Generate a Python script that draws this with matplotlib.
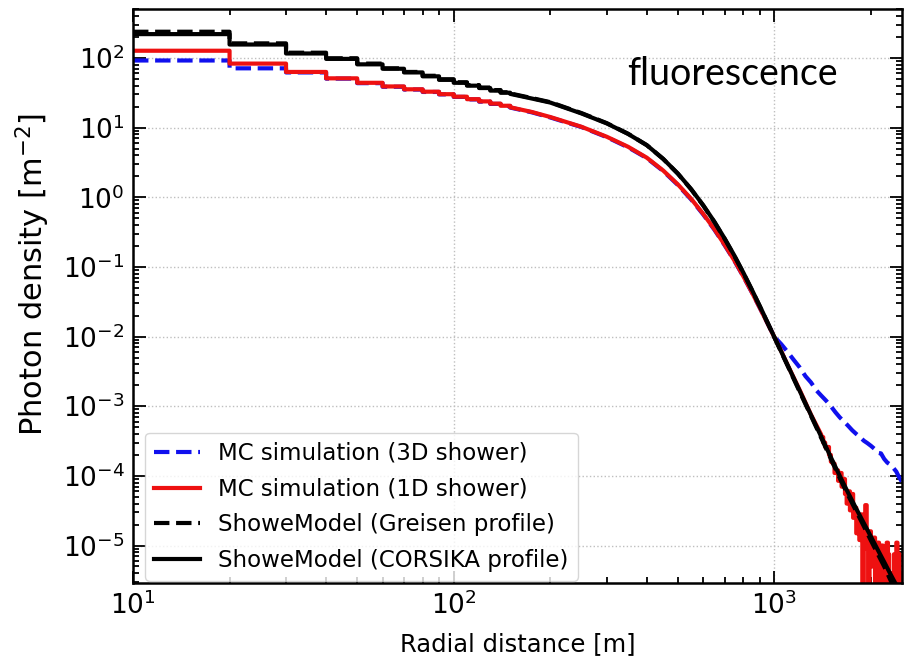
import numpy as np
import matplotlib
matplotlib.use("Agg")
import matplotlib.pyplot as plt
from matplotlib.ticker import LogLocator, NullFormatter

# 10 m bins close to the core, where the histogram steps are visible
low_edges = [10, 20, 30, 40, 50, 60, 70, 80, 90, 100, 110, 120, 130, 140, 150]
mc3d_low = [92, 71, 62, 50.5, 43.5, 38.6, 35.2, 32.5, 30.0, 27.6, 25.4, 23.6, 21.9, 20.4]
mc1d_low = [127, 83, 63, 51, 44, 39, 35.5, 32.8, 30.2, 27.8, 25.6, 23.8, 22.1, 20.6]
greisen_low = [238, 162, 119, 99, 83, 71, 63, 55.5, 49.5, 44.8, 40.8, 37.6, 34.6, 32.2]
corsika_low = [220, 156, 116, 97, 81, 70, 62, 54.5, 48.5, 44.0, 40.0, 37.0, 34.0, 31.7]

# outer part, sampled at radii [m]
r_mid = [150, 175, 200, 250, 300, 350, 400, 450, 500, 550, 600, 650, 700,
         750, 800, 850, 900, 950, 1000]
mc3d_mid = [19.4, 16.6, 14.0, 10.2, 7.3, 5.2, 3.65, 2.38, 1.50, 0.93, 0.565,
            0.342, 0.204, 0.123, 0.073, 0.0434, 0.026, 0.0158, 0.0099]
mc1d_mid = [19.6, 16.8, 14.2, 10.3, 7.4, 5.3, 3.7, 2.42, 1.53, 0.95, 0.577,
            0.348, 0.207, 0.124, 0.0735, 0.0436, 0.026, 0.0158, 0.0098]
greisen_mid = [31.0, 26.6, 23.2, 16.2, 11.6, 8.15, 5.6, 3.55, 2.18, 1.30, 0.76,
               0.44, 0.252, 0.144, 0.082, 0.047, 0.0273, 0.0161, 0.0097]
corsika_mid = [30.5, 26.2, 22.9, 16.0, 11.5, 8.1, 5.6, 3.56, 2.19, 1.31, 0.767,
               0.445, 0.255, 0.146, 0.083, 0.0475, 0.0276, 0.0163, 0.0098]

r_far = [1050, 1100, 1200, 1300, 1400, 1500, 1600, 1700, 1800, 1900, 2000,
         2100, 2200, 2300, 2400, 2500]
greisen_far = [6.0e-3, 3.8e-3, 1.6e-3, 7.3e-4, 3.5e-4, 1.75e-4, 9.2e-5, 5.2e-5,
               3.1e-5, 1.9e-5, 1.18e-5, 7.6e-6, 5.0e-6, 3.2e-6, 2.1e-6, 1.4e-6]
corsika_far = [6.1e-3, 3.87e-3, 1.65e-3, 7.5e-4, 3.65e-4, 1.85e-4, 9.9e-5,
               5.65e-5, 3.38e-5, 2.1e-5, 1.34e-5, 8.7e-6, 5.8e-6, 3.9e-6,
               2.7e-6, 1.9e-6]

# 3D shower keeps a flatter tail beyond 1 km
r_mc3d_far = [1050, 1100, 1150, 1200, 1250, 1300, 1350, 1400, 1450, 1500,
              1550, 1600, 1650, 1700, 1750, 1800, 1850, 1900, 1950, 2000,
              2050, 2100, 2150, 2200, 2250, 2300, 2350, 2400, 2450, 2500]
mc3d_far = [7.8e-3, 6.0e-3, 4.6e-3, 3.6e-3, 2.7e-3, 2.2e-3, 1.7e-3, 1.42e-3,
            1.2e-3, 1.0e-3, 8.2e-4, 6.9e-4, 6.0e-4, 5.2e-4, 4.5e-4, 4.0e-4,
            3.6e-4, 3.2e-4, 2.95e-4, 2.7e-4, 2.45e-4, 2.15e-4, 2.1e-4,
            1.75e-4, 1.55e-4, 1.45e-4, 1.3e-4, 1.15e-4, 9.5e-5, 8.2e-5]

# 1D shower: smooth up to 1.4 km, then a sparse (noisy) 20 m histogram
r_mc1d_far = [1050, 1100, 1200, 1300, 1400]
mc1d_far = [6.2e-3, 3.9e-3, 1.7e-3, 7.6e-4, 3.9e-4]
tail_edges = list(range(1400, 2520, 20))
mc1d_tail = [3.6e-4, 3.0e-4, 2.6e-4, 2.6e-4, 2.0e-4, 1.6e-4, 1.5e-4, 1.1e-4,
             1.2e-4, 8.5e-5, 1.1e-4, 7.0e-5, 9.0e-5, 5.5e-5, 4.0e-5, 6.0e-5,
             3.2e-5, 5.5e-5, 2.5e-5, 3.5e-5, 1.5e-5, 2.2e-5, 1.2e-5, 2.8e-5,
             0, 1.4e-5, 3.8e-5, 9e-6, 0, 1.6e-5, 1.1e-5, 5e-6, 1.3e-5, 0,
             7e-6, 1.1e-5, 0, 6e-6, 1.0e-5, 0, 5e-6, 0, 1.1e-5, 7.5e-6, 0,
             4e-6, 0, 0, 7.5e-6, 0, 1.1e-5, 0, 7.5e-6, 4e-6, 0]

x_ticks = [1e1, 1e2, 1e3]
y_ticks = [1e-5, 1e-4, 1e-3, 1e-2, 1e-1, 1e0, 1e1, 1e2]


def steps(edges, vals):
    xs = np.repeat(np.asarray(edges, float), 2)[1:-1]
    ys = np.repeat(np.asarray(vals, float), 2)
    return xs, ys


def curve(low, r_mid, mid, r_far, far, tail=None):
    xs, ys = steps(low_edges, low)
    xs = np.concatenate([xs, r_mid, r_far])
    ys = np.concatenate([ys, mid, far])
    if tail is not None:
        tx, ty = steps(tail_edges, tail)
        xs = np.concatenate([xs, tx])
        ys = np.concatenate([ys, ty])
    return xs, ys


fig = plt.figure(figsize=(9.08, 6.63), dpi=100)
ax = fig.add_axes([0.1465, 0.1207, 0.8469, 0.8653])

lw = 3.0
x, y = curve(mc3d_low, r_mid, mc3d_mid, r_mc3d_far, mc3d_far)
ax.plot(x, y, color="#1010ee", ls="--", lw=lw, label="MC simulation (3D shower)")
x, y = curve(mc1d_low, r_mid, mc1d_mid, r_mc1d_far, mc1d_far, mc1d_tail)
ax.plot(x, y, color="#ee1111", ls="-", lw=lw, label="MC simulation (1D shower)")
x, y = curve(greisen_low, r_mid, greisen_mid, r_far, greisen_far)
ax.plot(x, y, color="black", ls="--", lw=lw, label="ShoweModel (Greisen profile)")
x, y = curve(corsika_low, r_mid, corsika_mid, r_far, corsika_far)
ax.plot(x, y, color="black", ls="-", lw=lw, label="ShoweModel (CORSIKA profile)")

ax.set_xscale("log")
ax.set_yscale("log", nonpositive="clip")
ax.set_xlim(10, 2500)
ax.set_ylim(2.9e-6, 500)

ax.set_xticks(x_ticks)
ax.set_yticks(y_ticks)
ax.yaxis.set_minor_locator(LogLocator(base=10, subs=np.arange(2, 10), numticks=100))
ax.yaxis.set_minor_formatter(NullFormatter())
ax.xaxis.set_minor_locator(LogLocator(base=10, subs=np.arange(2, 10), numticks=100))
ax.xaxis.set_minor_formatter(NullFormatter())

ax.grid(True, which="major", ls=":", color="0.75", lw=1)
ax.tick_params(which="both", direction="in", top=True, right=True, width=1.3)
ax.tick_params(which="major", length=9, labelsize=19, pad=6)
ax.tick_params(which="minor", length=4.5)
for s in ax.spines.values():
    s.set_linewidth(1.8)

ax.set_xlabel("Radial distance [m]", fontsize=17.5, labelpad=9)
ax.set_ylabel("Photon density [m$^{-2}$]", fontsize=22)
ax.yaxis.set_label_coords(-0.105, 0.537)

ax.text(0.642, 0.868, "fluorescence", transform=ax.transAxes, fontsize=27,
        family=["Lato", "DejaVu Sans"], va="baseline", ha="left")

ax.legend(loc="lower left", fontsize=16.5, handlelength=2.0, labelspacing=0.55,
          borderaxespad=0, bbox_to_anchor=(0.0156, 0.0035))

fig.savefig("out.png", dpi=100)
